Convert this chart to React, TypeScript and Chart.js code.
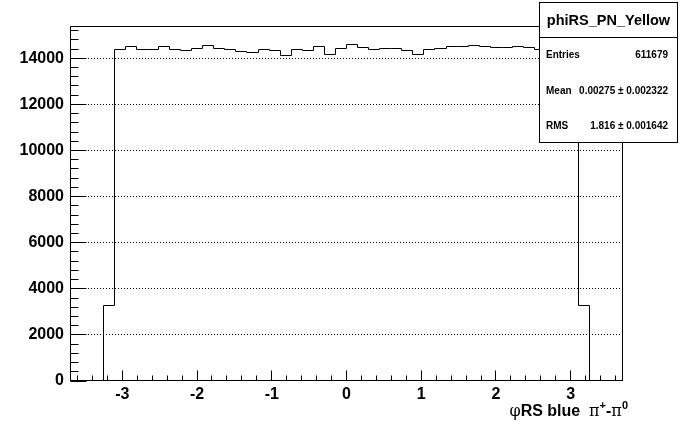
import { useEffect, useRef } from "react";
import { Chart, registerables } from "chart.js";

Chart.register(...registerables);

const X_MIN = -3.7;
const X_MAX = 3.7;
const Y_MAX = 15400;

const binCounts = [
  0, 0, 0, 3260,
  14390, 14500, 14390, 14390, 14500, 14390, 14350, 14430, 14550, 14430,
  14390, 14310, 14270, 14390, 14350, 14130, 14390, 14350, 14520, 14170,
  14430, 14590, 14480, 14390, 14430, 14430, 14320, 14170, 14390, 14430,
  14520, 14520, 14560, 14520, 14480, 14480, 14520, 14480, 14390, 14450,
  14420, 14400,
  3270, 0, 0, 0,
];

const xTickValues = [-3, -2, -1, 0, 1, 2, 3];
const yTickValues = [0, 2000, 4000, 6000, 8000, 10000, 12000, 14000];

const statsTitle = "phiRS_PN_Yellow";
const statsLabels = ["Entries", "Mean", "RMS"];
const statsValues = ["611679", "0.00275 \u00b1 0.002322", "1.816 \u00b1 0.001642"];

const SANS = "'Liberation Sans', Arial, Helvetica, sans-serif";
const SERIF = "'DejaVu Serif', 'Liberation Serif', serif";

const rootPlugin = {
  id: "rootStyle",
  afterDatasetsUpdate(chart: any) {
    const meta = chart.getDatasetMeta(0);
    meta.data.forEach((p: any) => {
      p.x = Math.floor(p.x) + 0.5;
      p.y = Math.floor(p.y) + 0.5;
    });
  },
  beforeDatasetsDraw(chart: any) {
    const { ctx, chartArea } = chart;
    const ys = chart.scales.y;
    ctx.save();
    ctx.strokeStyle = "#000";
    ctx.lineWidth = 1;
    ctx.setLineDash([1, 2]);
    for (const v of yTickValues) {
      if (v === 0) continue;
      const py = Math.floor(ys.getPixelForValue(v)) + 0.5;
      ctx.beginPath();
      ctx.moveTo(chartArea.left, py);
      ctx.lineTo(chartArea.right, py);
      ctx.stroke();
    }
    ctx.restore();
  },
  afterDatasetsDraw(chart: any) {
    const { ctx, chartArea } = chart;
    const xs = chart.scales.x;
    const ys = chart.scales.y;
    const L = Math.floor(chartArea.left) + 0.5;
    const R = Math.floor(chartArea.right) - 0.5;
    const T = Math.floor(chartArea.top) + 0.5;
    const B = Math.floor(chartArea.bottom) - 0.5;
    ctx.save();
    ctx.strokeStyle = "#000";
    ctx.lineWidth = 1;
    ctx.setLineDash([]);
    ctx.strokeRect(L, T, R - L, B - T);
    ctx.beginPath();
    for (let v = 0; v <= Y_MAX; v += 400) {
      const py = Math.floor(ys.getPixelForValue(v)) + 0.5;
      if (py < T) continue;
      const len = v % 2000 === 0 ? 16 : 8;
      ctx.moveTo(L, py);
      ctx.lineTo(L + len, py);
    }
    for (let i = -18; i <= 18; i++) {
      const v = i / 5;
      const px = Math.floor(xs.getPixelForValue(v)) + 0.5;
      const len = i % 5 === 0 ? 10 : 5;
      ctx.moveTo(px, B);
      ctx.lineTo(px, B - len);
    }
    ctx.stroke();

    const segs = [
      { t: "\u03c6", f: `16px ${SERIF}`, dy: 0 },
      { t: "RS blue  ", f: `bold 16px ${SANS}`, dy: 0 },
      { t: "\u03c0", f: `16px ${SERIF}`, dy: 0 },
      { t: "+", f: `bold 11px ${SANS}`, dy: -7 },
      { t: "-", f: `bold 16px ${SANS}`, dy: 0 },
      { t: "\u03c0", f: `16px ${SERIF}`, dy: 0 },
      { t: "0", f: `bold 11px ${SANS}`, dy: -7 },
    ];
    let total = 0;
    for (const s of segs) {
      ctx.font = s.f;
      total += ctx.measureText(s.t).width;
    }
    let x = 628 - total;
    const base = 416;
    ctx.fillStyle = "#000";
    ctx.textBaseline = "alphabetic";
    ctx.textAlign = "left";
    for (const s of segs) {
      ctx.font = s.f;
      ctx.fillText(s.t, x, base + s.dy);
      x += ctx.measureText(s.t).width;
    }
    ctx.restore();
  },
  afterDraw(chart: any) {
    const { ctx } = chart;
    const bx = 539.5, by = 2.5, bw = 138, bh = 140;
    ctx.save();
    ctx.fillStyle = "#fff";
    ctx.fillRect(bx, by, bw, bh);
    ctx.strokeStyle = "#000";
    ctx.lineWidth = 1;
    ctx.setLineDash([]);
    ctx.strokeRect(bx, by, bw, bh);
    ctx.beginPath();
    ctx.moveTo(bx, 37.5);
    ctx.lineTo(bx + bw, 37.5);
    ctx.stroke();
    ctx.fillStyle = "#000";
    ctx.textBaseline = "middle";
    ctx.textAlign = "center";
    ctx.font = `bold 14.5px ${SANS}`;
    ctx.fillText(statsTitle, bx + bw / 2, 20.5);
    const rowY = [55.5, 91.5, 126.5];
    ctx.font = `bold 10px ${SANS}`;
    statsLabels.forEach((lab, i) => {
      ctx.textAlign = "left";
      ctx.fillText(lab, 546, rowY[i]);
      ctx.textAlign = "right";
      ctx.fillText(statsValues[i], 668, rowY[i]);
    });
    ctx.restore();
  },
};

export default function App() {
  const ref = useRef<HTMLCanvasElement | null>(null);
  useEffect(() => {
    document.body.style.margin = "0";
    const nBins = binCounts.length;
    const w = (X_MAX - X_MIN) / nBins;
    const points = [] as { x: number; y: number }[];
    for (let i = 0; i <= nBins; i++) {
      points.push({ x: X_MIN + i * w, y: binCounts[Math.min(i, nBins - 1)] });
    }
    const chart = new Chart(ref.current as HTMLCanvasElement, {
      type: "line",
      data: {
        datasets: [
          {
            data: points,
            stepped: true,
            borderColor: "#000",
            borderWidth: 1,
            pointRadius: 0,
            fill: false,
          },
        ],
      },
      options: {
        animation: false,
        responsive: false,
        devicePixelRatio: 1,
        layout: { padding: { left: 0, right: 69, top: 26, bottom: 0 } },
        plugins: { legend: { display: false }, tooltip: { enabled: false } },
        scales: {
          x: {
            type: "linear",
            min: X_MIN,
            max: X_MAX,
            afterBuildTicks: (s: any) => {
              s.ticks = xTickValues.map((v) => ({ value: v }));
            },
            afterFit: (s: any) => {
              s.height = 63;
            },
            grid: { display: false, drawTicks: false },
            border: { display: false },
            ticks: {
              autoSkip: false,
              maxRotation: 0,
              padding: 4,
              color: "#000",
              font: { family: SANS, size: 16, weight: "bold" },
              callback: (v: any) => String(v),
            },
          },
          y: {
            type: "linear",
            min: 0,
            max: Y_MAX,
            afterBuildTicks: (s: any) => {
              s.ticks = yTickValues.map((v) => ({ value: v }));
            },
            afterFit: (s: any) => {
              s.width = 70;
            },
            grid: { display: false, drawTicks: false },
            border: { display: false },
            ticks: {
              autoSkip: false,
              padding: 6,
              color: "#000",
              font: { family: SANS, size: 16, weight: "bold" },
              callback: (v: any) => String(v),
            },
          },
        },
      },
      plugins: [rootPlugin],
    });
    return () => chart.destroy();
  }, []);
  return (
    <div style={{ position: "absolute", left: 0, top: 0, width: 692, height: 444, background: "#fff" }}>
      <canvas ref={ref} width={692} height={444} style={{ display: "block" }} />
    </div>
  );
}
